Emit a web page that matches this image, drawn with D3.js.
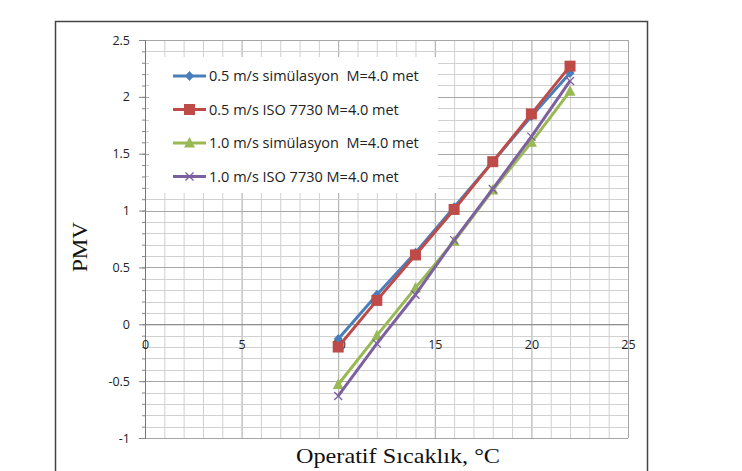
<!DOCTYPE html>
<meta charset="utf-8">
<style>
body { margin: 0; background: #fff; }
svg { display: block; }
.tick text { font-family: "Open Sans", "Liberation Sans", sans-serif; font-size: 12.5px; fill: #222; }
.legend text { font-family: "Open Sans", "Liberation Sans", sans-serif; font-size: 14.5px; fill: #222; white-space: pre; }
.title { font-family: "Liberation Serif", "DejaVu Serif", serif; fill: #111; }
</style>
<svg width="742" height="471"></svg>
<script src="https://d3js.org/d3.v7.min.js"></script>
<script>

var temps = [10, 12, 14, 16, 18, 20, 22];
var sim05 = [-0.13, 0.26, 0.63, 1.03, 1.43, 1.83, 2.21];
var iso05 = [-0.2, 0.21, 0.61, 1.01, 1.43, 1.85, 2.27];
var sim10 = [-0.53, -0.1, 0.32, 0.73, 1.18, 1.6, 2.05];
var iso10 = [-0.63, -0.17, 0.26, 0.74, 1.19, 1.65, 2.14];

var seriesNames = ["0.5 m/s simülasyon  M=4.0 met", "0.5 m/s ISO 7730 M=4.0 met",
                   "1.0 m/s simülasyon  M=4.0 met", "1.0 m/s ISO 7730 M=4.0 met"];
var xTicks = [0, 5, 10, 15, 20, 25];
var yTicks = [-1, -0.5, 0, 0.5, 1, 1.5, 2, 2.5];

var series = [
  {name: seriesNames[0], values: sim05, color: "#4a7ebb", marker: "diamond"},
  {name: seriesNames[1], values: iso05, color: "#be4b48", marker: "square"},
  {name: seriesNames[2], values: sim10, color: "#98b954", marker: "triangle"},
  {name: seriesNames[3], values: iso10, color: "#7d60a0", marker: "cross"}
];

var svg = d3.select("svg");

// outer chart frame
svg.append("rect")
    .attr("x", 55.5).attr("y", 21.5)
    .attr("width", 592).attr("height", 460)
    .attr("fill", "none").attr("stroke", "#444").attr("stroke-width", 1.5);

var x = d3.scaleLinear().domain([0, 25]).range([145, 628]);
var y = d3.scaleLinear().domain([-1, 2.5]).range([438, 40]);

var grid = svg.append("g");
// grid: minor every 1 / 0.1, major every 5 / 0.5
grid.selectAll(".vx").data(d3.range(0, 26, 1)).enter().append("line")
    .attr("x1", d => x(d) + 0.5).attr("x2", d => x(d) + 0.5)
    .attr("y1", y(2.5)).attr("y2", y(-1))
    .attr("stroke", d => d % 5 === 0 ? "#a6a6a6" : "#d0d0d0").attr("stroke-width", 1);
grid.selectAll(".hy").data(d3.range(-10, 26, 1)).enter().append("line")
    .attr("y1", d => Math.round(y(d / 10)) + 0.5).attr("y2", d => Math.round(y(d / 10)) + 0.5)
    .attr("x1", x(0)).attr("x2", x(25))
    .attr("stroke", d => d % 5 === 0 ? "#a6a6a6" : "#d0d0d0").attr("stroke-width", 1);

// y axis with minor ticks
svg.append("g")
    .attr("transform", "translate(" + x(0) + ",0)")
    .call(d3.axisLeft(y).tickValues(d3.range(-10, 26, 1).map(d => d / 10)).tickSize(3).tickFormat(""))
    .call(g => g.selectAll("path,line").attr("stroke", "#888"));
svg.append("g")
    .attr("transform", "translate(" + x(0) + ",0)")
    .call(d3.axisLeft(y).tickValues(yTicks).tickSize(6).tickPadding(9).tickFormat(d => d))
    .call(g => g.select(".domain").attr("stroke", "#777"))
    .call(g => g.selectAll(".tick line").attr("stroke", "#888"));

// x axis at y = 0, labels below
svg.append("g")
    .attr("transform", "translate(0," + y(0) + ")")
    .call(d3.axisBottom(x).tickValues(xTicks).tickSize(0).tickPadding(16).tickFormat(d => d))
    .call(g => g.select(".domain").attr("stroke", "#888"));

// legend box
svg.append("rect")
    .attr("x", 149).attr("y", 57).attr("width", 289).attr("height", 136)
    .attr("fill", "#fff");

var line = d3.line().x((d, i) => x(temps[i])).y(d => y(d));

function drawMarker(sel, type, color) {
  if (type === "diamond") {
    sel.append("path").attr("d", "M0,-5L4.5,0L0,5L-4.5,0Z").attr("fill", color);
  } else if (type === "square") {
    sel.append("rect").attr("x", -5.5).attr("y", -5.5).attr("width", 11).attr("height", 11).attr("fill", color);
  } else if (type === "triangle") {
    sel.append("path").attr("d", "M0,-6L5.5,4.5L-5.5,4.5Z").attr("fill", color);
  } else {
    sel.append("path").attr("d", "M-4,-4L4,4M-4,4L4,-4").attr("stroke", color).attr("stroke-width", 1.3);
  }
}

series.forEach(function(s) {
  svg.append("path").datum(s.values)
      .attr("d", line)
      .attr("fill", "none").attr("stroke", s.color).attr("stroke-width", 3)
      .attr("stroke-linejoin", "round");
  svg.append("g").selectAll("g").data(s.values).enter().append("g")
      .attr("transform", (d, i) => "translate(" + x(temps[i]) + "," + y(d) + ")")
      .each(function() { drawMarker(d3.select(this), s.marker, s.color); });
});

// legend
var legend = svg.append("g").attr("class", "legend");
series.forEach(function(s, i) {
  var ly = 76 + i * 33.5;
  var g = legend.append("g");
  g.append("line").attr("x1", 173).attr("x2", 206).attr("y1", ly).attr("y2", ly)
      .attr("stroke", s.color).attr("stroke-width", 3);
  var m = g.append("g").attr("transform", "translate(189.5," + ly + ")");
  drawMarker(m, s.marker, s.color);
  g.append("text").attr("x", 209).attr("y", ly).attr("dy", "0.35em").text(s.name);
});

// axis titles
svg.append("text").attr("class", "title")
    .attr("transform", "translate(87,247) rotate(-90)")
    .attr("text-anchor", "middle").attr("font-size", 22)
    .attr("textLength", 50).attr("lengthAdjust", "spacingAndGlyphs")
    .text("PMV");
svg.append("text").attr("class", "title")
    .attr("x", 398).attr("y", 463)
    .attr("text-anchor", "middle").attr("font-size", 21)
    .attr("textLength", 204).attr("lengthAdjust", "spacingAndGlyphs")
    .text("Operatif Sıcaklık, °C");

</script>
